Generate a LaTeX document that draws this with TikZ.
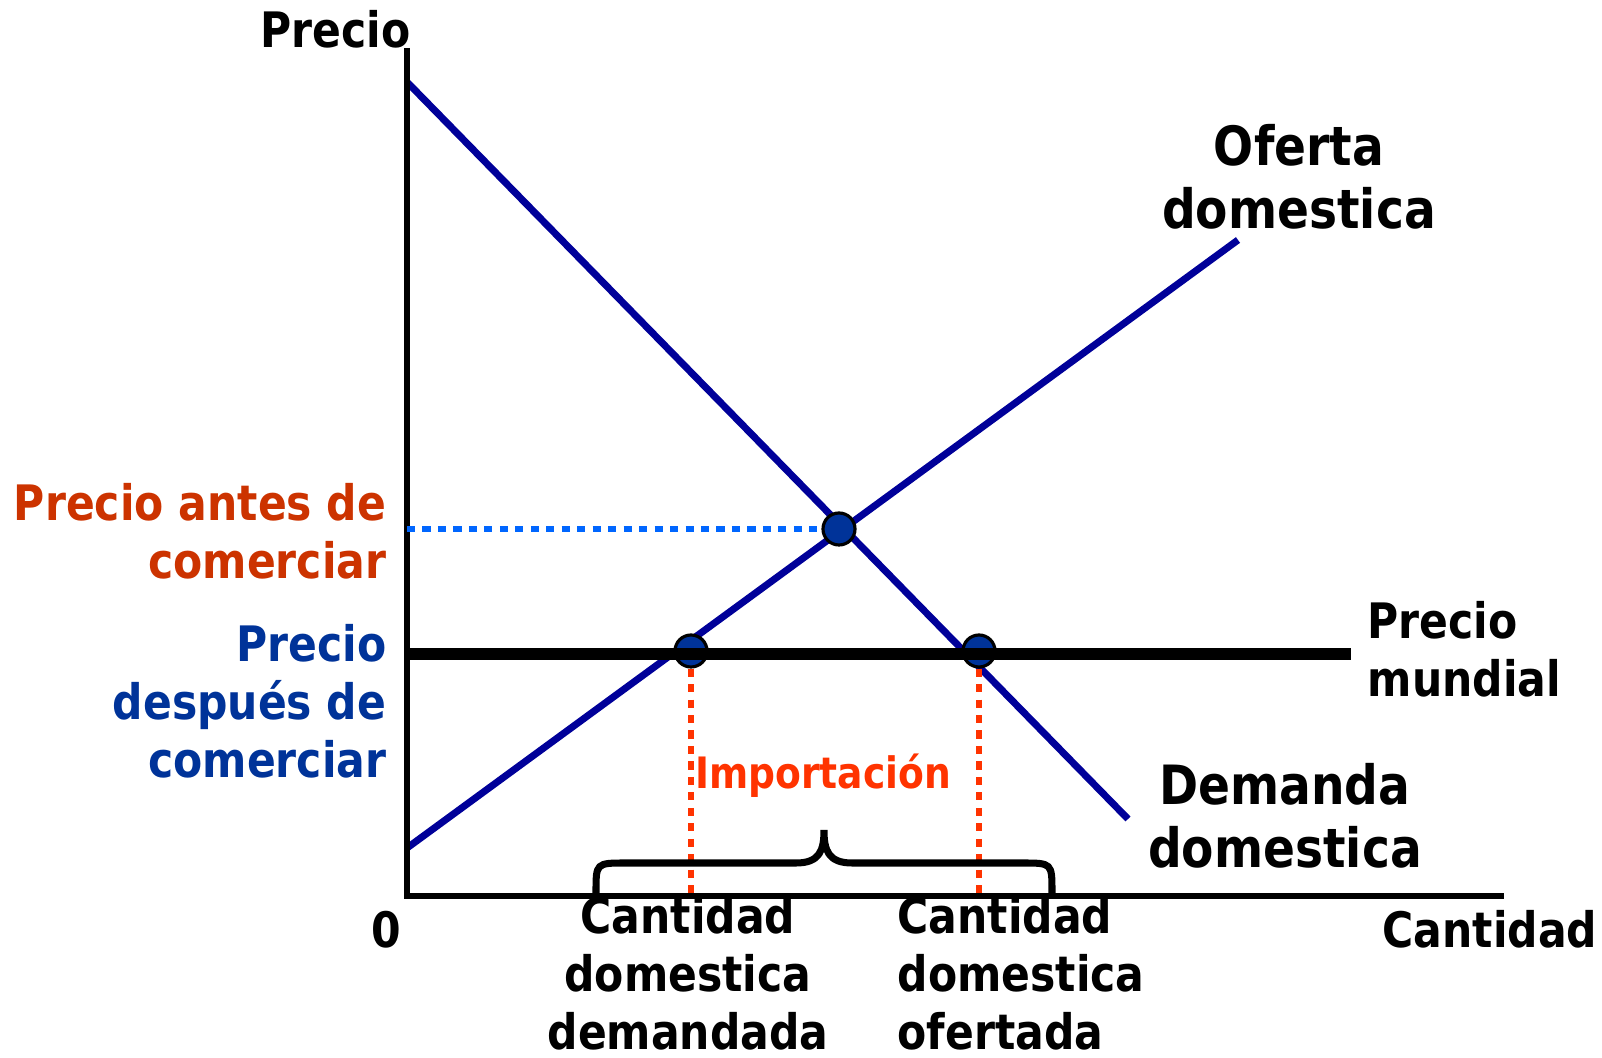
\documentclass[tikz,border=0pt]{standalone}
\usepackage{fontspec}
\setmainfont{DejaVu Sans}[FakeStretch=0.87]
\usetikzlibrary{positioning, calc}
\definecolor{lineblue}{HTML}{000099}
\definecolor{dotblue}{HTML}{003399}
\definecolor{dashblue}{HTML}{0066FF}
\definecolor{impred}{HTML}{FF3300}
\definecolor{antesred}{HTML}{CC3300}
\newcommand{\dropline}[2]
{
	\draw[guide, line width=1.9pt, #1] (#2.south) -- (#2.south |- O)
}
\begin{document}
\begin{tikzpicture}[x=0.01cm, y=-0.01cm,
			lbl/.style={font=\bfseries\fontsize{13.9}{16.5}\selectfont, inner sep=0},
			big/.style={lbl, font=\bfseries\fontsize{15.4}{18}\selectfont},
			curve/.style={draw=lineblue, line width=2pt},
			pt/.style={circle, draw=black, fill=dotblue, line width=0.9pt,
				minimum size=0.32cm, inner sep=0},
			guide/.style={line width=1.5pt, dash pattern=on 2.3pt off 2.1pt}]
			\useasboundingbox (0,0) rectangle (1602,1058);

			\coordinate (O) at (407,896);
			\coordinate (ytop) at (407,48);
			\coordinate (xend) at (1504,896);
			\coordinate (D1) at (407,82);
			\coordinate (D2) at (1128,819);
			\coordinate (S1) at (407,848);
			\coordinate (S2) at (1238,240);
			\coordinate (W1) at (407,654);
			\coordinate (W2) at (1351,654);
			\coordinate (pa) at (407,529);

			\draw[curve] (D1) -- (D2);
			\draw[curve] (S1) -- (S2);

			\node[pt] (eq) at (839,529) {};
			\node[pt] (qd) at (691,651) {};
			\node[pt] (qs) at (979,651) {};

			\draw[line width=3.3pt] (W1) -- (W2);
			\draw[line width=1.45pt] (ytop) -- (O) -- (xend);

			\draw[guide, dashblue] (pa) -- (eq.west);
			\dropline{impred}{qd};
			\dropline{impred}{qs};

			% llave de importacion
			\draw[line width=2pt] (596,896) -- (596,892) .. controls (596,863) .. (626,863)
				-- (796,863) .. controls (820,863) and (824,850) .. (824,830)
				.. controls (824,850) and (828,863) .. (852,863)
				-- (1022,863) .. controls (1052,863) .. (1052,892) -- (1052,896);

			\node[lbl, anchor=base east] (ylab) at (411,48) {Precio};
			\node[lbl, anchor=base east] (xlab) at (1598,948) {Cantidad};
			\node[lbl, anchor=base] (zero) at (386,948) {0};
			\node[big, align=center, anchor=base] (oferta) at (1299,229) {Oferta\\domestica};
			\node[big, align=center, anchor=base] (demanda) at (1285,868) {Demanda\\domestica};
			\node[lbl, align=left, anchor=base west] (mundial) at (1367,697) {Precio\\mundial};
			\node[lbl, align=right, anchor=base east, text=antesred] (antes) at (387,579) {Precio antes de\\comerciar};
			\node[lbl, align=right, anchor=base east, text=dotblue] (despues) at (387,778) {Precio\\después de\\comerciar};
			\node[lbl, text=impred, anchor=base, font=\bfseries\fontsize{12.3}{14}\selectfont] (imp) at (823,789) {Importación};
			\node[lbl, align=center, anchor=base] (qdlab) at (688,1050) {Cantidad\\domestica\\demandada};
			\node[lbl, align=left, anchor=base west] (qslab) at (897,1050) {Cantidad\\domestica\\ofertada};
		\end{tikzpicture}
\end{document}
